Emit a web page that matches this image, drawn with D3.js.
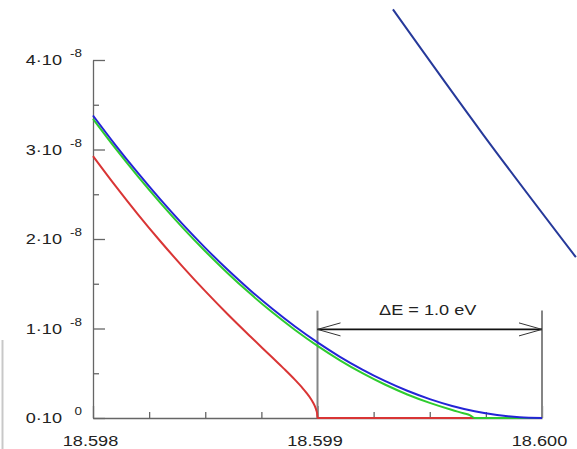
<!DOCTYPE html>
<html>
<head>
<meta charset="utf-8">
<script src="https://cdn.jsdelivr.net/npm/d3@7"></script>
<style>
  html, body { margin: 0; padding: 0; background: #fff; }
  svg { display: block; }
  text { font-family: "Liberation Sans", Arial, sans-serif; fill: #222; }
</style>
</head>
<body>
<svg id="chart" width="577" height="449"></svg>
<script>
// Electron energy (keV) near the tritium endpoint, rate in units of 1e-8

// massless neutrino
const blueEnergy = [18.5980, 18.5981, 18.5982, 18.5983, 18.5984, 18.5985, 18.5986, 18.5987,
  18.5988, 18.5989, 18.5990, 18.5991, 18.5992, 18.5993, 18.5994, 18.5995, 18.5996, 18.5997,
  18.5998, 18.5999, 18.6000];
const blueValues = [3.380, 3.050, 2.738, 2.442, 2.163, 1.901, 1.656, 1.428, 1.217, 1.022,
  0.845, 0.684, 0.541, 0.414, 0.304, 0.211, 0.135, 0.076, 0.034, 0.0085, 0];

// 0.3 eV neutrino mass
const greenEnergy = [18.5980, 18.5981, 18.5982, 18.5983, 18.5984, 18.5985, 18.5986, 18.5987,
  18.5988, 18.5989, 18.5990, 18.5991, 18.5992, 18.5993, 18.5994, 18.5995, 18.5996, 18.59965,
  18.59968, 18.5997, 18.5998, 18.5999, 18.6000];
const greenValues = [3.342, 3.012, 2.700, 2.404, 2.125, 1.863, 1.618, 1.390, 1.178, 0.984,
  0.806, 0.645, 0.501, 0.374, 0.263, 0.169, 0.089, 0.053, 0.030, 0, 0, 0, 0];

// 1 eV neutrino mass
const redEnergy = [18.5980, 18.5981, 18.5982, 18.5983, 18.5984, 18.5985, 18.5986, 18.5987,
  18.5988, 18.59885, 18.5989, 18.59893, 18.59895, 18.59897, 18.59898, 18.59899, 18.598995,
  18.598998, 18.5990, 18.5992, 18.5994, 18.5996, 18.5998, 18.6000];
const redValues = [2.927, 2.594, 2.276, 1.975, 1.689, 1.417, 1.159, 0.913, 0.673, 0.552,
  0.426, 0.344, 0.284, 0.215, 0.173, 0.121, 0.085, 0.054, 0, 0, 0, 0, 0, 0];

// steep reference curve crossing the upper right
const navyEnergy = [18.599336, 18.599737, 18.600151];
const navyValues = [4.565, 3.170, 1.797];

// axis ticks
const xMajorTicks = [18.598, 18.599, 18.600];
const xTickLabels = ["18.598", "18.599", "18.600"];
const xMinorTicks = [18.59825, 18.5985, 18.59875, 18.59925, 18.5995, 18.59975];
const yMajorTicks = [0, 1, 2, 3, 4];
const yTickMantissa = ["0·10", "1·10", "2·10", "3·10", "4·10"];
const yTickExponent = ["0", "-8", "-8", "-8", "-8"];
const yMinorTicks = [0.5, 1.5, 2.5, 3.5];

// energy window annotation
const windowEdges = [18.599, 18.600];
const windowLabel = "ΔE = 1.0 eV";
const windowTop = 1.2;
const windowArrowLevel = 0.99;

const svg = d3.select("#chart");
svg.append("rect").attr("width", 577).attr("height", 449).attr("fill", "#fff");

const x = d3.scaleLinear().domain([18.598, 18.600]).range([93, 542]);
const y = d3.scaleLinear().domain([0, 4]).range([418, 60]);

// frame edge of the enclosing panel at the far left
svg.append("line")
  .attr("x1", 2.5).attr("x2", 2.5).attr("y1", 340).attr("y2", 449)
  .attr("stroke", "#c8c8c8").attr("stroke-width", 2);

const axisColor = "#666";

// axes with inward ticks
const gy = svg.append("g").attr("transform", `translate(${x.range()[0]},0)`);
gy.call(d3.axisLeft(y).tickValues(yMajorTicks).tickSize(-12).tickSizeOuter(0).tickFormat(""));
const gyMinor = svg.append("g").attr("transform", `translate(${x.range()[0]},0)`);
gyMinor.call(d3.axisLeft(y).tickValues(yMinorTicks).tickSize(-6).tickSizeOuter(0).tickFormat(""));
gyMinor.select(".domain").remove();

const gx = svg.append("g").attr("transform", `translate(0,${y(0)})`);
gx.call(d3.axisBottom(x).tickValues(xMajorTicks).tickSize(-12).tickSizeOuter(0).tickFormat(""));
const gxMinor = svg.append("g").attr("transform", `translate(0,${y(0)})`);
gxMinor.call(d3.axisBottom(x).tickValues(xMinorTicks).tickSize(-6).tickSizeOuter(0).tickFormat(""));
gxMinor.select(".domain").remove();

svg.selectAll(".domain, .tick line").attr("stroke", axisColor).attr("stroke-width", 1.3);

// tick labels
const stretch = 1.17;
yMajorTicks.forEach((v, i) => {
  svg.append("text")
    .attr("transform", `translate(62,${y(v) + 5}) scale(${stretch},1)`)
    .attr("text-anchor", "end").attr("font-size", 15.5)
    .text(yTickMantissa[i]);
  svg.append("text")
    .attr("transform", `translate(82,${y(v) - 3}) scale(${stretch},1)`)
    .attr("text-anchor", "end").attr("font-size", 11.5)
    .text(yTickExponent[i]);
});
xMajorTicks.forEach((v, i) => {
  svg.append("text")
    .attr("transform", `translate(${x(v) - 2.5},446) scale(${stretch},1)`)
    .attr("text-anchor", "middle").attr("font-size", 15.5)
    .text(xTickLabels[i]);
});

// energy window markers
windowEdges.forEach(e => {
  svg.append("line")
    .attr("x1", x(e)).attr("x2", x(e))
    .attr("y1", y(0)).attr("y2", y(windowTop))
    .attr("stroke", "#858585").attr("stroke-width", 2);
});

// spectra
const line = d3.line().x(d => x(d[0])).y(d => y(d[1])).curve(d3.curveMonotoneX);
const series = [
  { e: redEnergy, v: redValues, color: "#d93535" },
  { e: greenEnergy, v: greenValues, color: "#2ecc2e" },
  { e: blueEnergy, v: blueValues, color: "#2424d6" },
  { e: navyEnergy, v: navyValues, color: "#26399a" }
];
series.forEach(s => {
  svg.append("path")
    .datum(s.e.map((e, i) => [e, s.v[i]]))
    .attr("d", line)
    .attr("fill", "none")
    .attr("stroke", s.color)
    .attr("stroke-width", 2)
    .attr("stroke-linejoin", "round");
});

// double arrow for the energy window
const ax1 = x(windowEdges[0]), ax2 = x(windowEdges[1]), ay = y(windowArrowLevel);
svg.append("line")
  .attr("x1", ax1).attr("x2", ax2).attr("y1", ay).attr("y2", ay)
  .attr("stroke", "#111").attr("stroke-width", 1.6);
svg.append("path")
  .attr("d", `M${ax1 + 23},${ay - 6.5}L${ax1},${ay}L${ax1 + 23},${ay + 6.5}`)
  .attr("fill", "none").attr("stroke", "#333").attr("stroke-width", 1);
svg.append("path")
  .attr("d", `M${ax2 - 23},${ay - 6.5}L${ax2},${ay}L${ax2 - 23},${ay + 6.5}`)
  .attr("fill", "none").attr("stroke", "#333").attr("stroke-width", 1);
svg.append("text")
  .attr("transform", `translate(${(ax1 + ax2) / 2 - 2},315) scale(${stretch},1)`)
  .attr("text-anchor", "middle").attr("font-size", 15.5)
  .text(windowLabel);
</script>
</body>
</html>
